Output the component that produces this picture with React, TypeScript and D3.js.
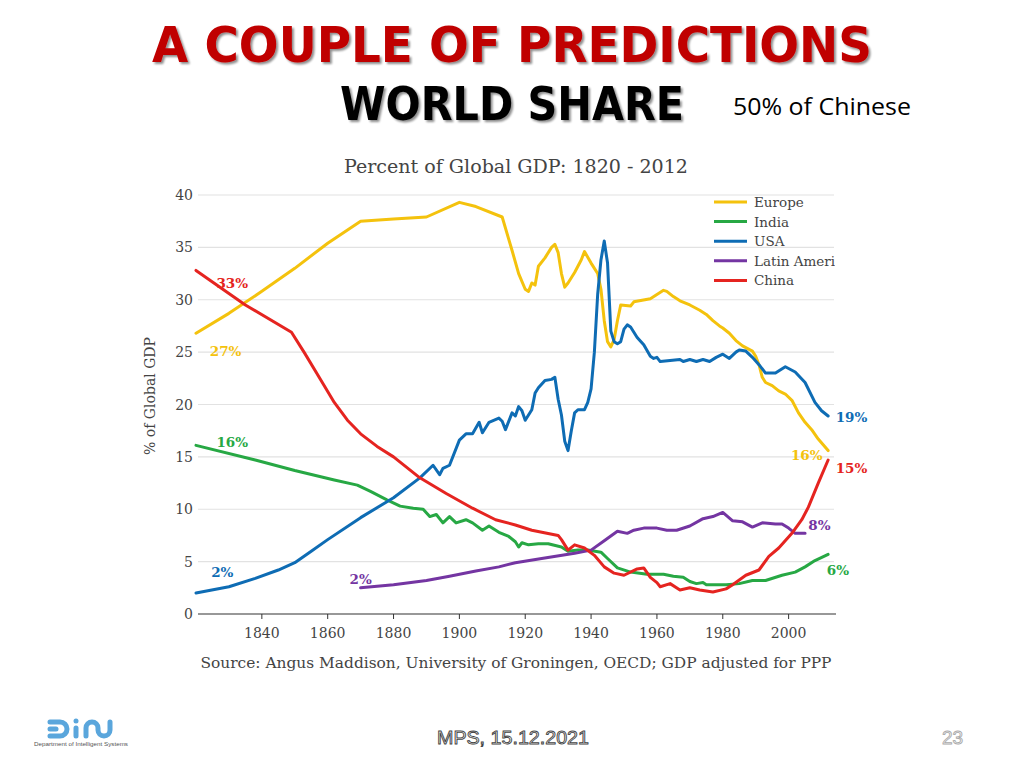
import React from "react";
import * as d3 from "d3";

const europe: [number, number][] = [
  [1820, 26.8], [1830, 28.7], [1840, 30.8], [1850, 33.0], [1860, 35.4], [1870, 37.5], [1880, 37.7],
  [1890, 37.9], [1900, 39.3], [1905, 38.9], [1913, 37.9], [1916, 34.7], [1918, 32.5], [1920, 31.0],
  [1921, 30.8], [1922, 31.6], [1923, 31.4], [1924, 33.2], [1926, 34.0], [1928, 35.0], [1929, 35.3],
  [1930, 34.5], [1931, 32.5], [1932, 31.2], [1933, 31.6], [1935, 32.6], [1937, 33.8], [1938, 34.6],
  [1940, 33.5], [1942, 32.5], [1943, 31.0], [1944, 28.0], [1945, 26.0], [1946, 25.5], [1947, 26.2],
  [1948, 28.0], [1949, 29.5], [1952, 29.4], [1953, 29.8], [1958, 30.1], [1960, 30.5],
  [1962, 30.9], [1963, 30.8], [1965, 30.3], [1967, 29.9], [1970, 29.5], [1973, 29.0], [1975, 28.6],
  [1977, 28.0], [1979, 27.5], [1980, 27.3], [1982, 26.8], [1984, 26.1], [1986, 25.6], [1989, 25.1],
  [1990, 24.6], [1991, 23.8], [1992, 22.6], [1993, 22.1], [1995, 21.8], [1997, 21.3], [1999, 21.0],
  [2001, 20.4], [2003, 19.2], [2005, 18.3], [2007, 17.6], [2009, 16.7], [2012, 15.6],
];

const india: [number, number][] = [
  [1820, 16.1], [1838, 14.7], [1850, 13.7], [1862, 12.8], [1869, 12.3], [1873, 11.7], [1878, 10.9],
  [1882, 10.3], [1886, 10.1], [1889, 10.0], [1891, 9.3], [1893, 9.5], [1895, 8.7], [1897, 9.3],
  [1899, 8.7], [1902, 9.0], [1904, 8.7], [1907, 8.0], [1909, 8.4], [1912, 7.8], [1915, 7.4],
  [1917, 6.9], [1918, 6.4], [1919, 6.8], [1921, 6.6], [1924, 6.7], [1927, 6.7], [1931, 6.4],
  [1933, 6.0], [1936, 6.1], [1939, 6.1], [1943, 5.9], [1945, 5.3], [1948, 4.4], [1952, 4.0],
  [1957, 3.8], [1962, 3.8], [1965, 3.6], [1968, 3.5], [1970, 3.1], [1972, 2.9], [1974, 3.0],
  [1975, 2.8], [1978, 2.8], [1981, 2.8], [1985, 2.9], [1989, 3.2], [1993, 3.2], [1998, 3.7],
  [2002, 4.0], [2005, 4.5], [2008, 5.1], [2012, 5.7],
];

const usa: [number, number][] = [
  [1820, 2.0], [1830, 2.6], [1838, 3.4], [1845, 4.2], [1850, 4.9], [1855, 6.0], [1860, 7.1],
  [1870, 9.2], [1880, 11.1], [1888, 13.0], [1892, 14.2], [1894, 13.3], [1895, 13.9], [1897, 14.2],
  [1900, 16.6], [1902, 17.2], [1904, 17.2], [1906, 18.3], [1907, 17.3], [1909, 18.3], [1912, 18.7],
  [1913, 18.4], [1914, 17.6], [1916, 19.2], [1917, 18.9], [1918, 19.8], [1919, 19.4], [1920, 18.5],
  [1922, 19.5], [1923, 21.1], [1924, 21.6], [1926, 22.3], [1928, 22.4], [1929, 22.6], [1930, 20.5],
  [1931, 19.0], [1932, 16.5], [1933, 15.6], [1934, 17.5], [1935, 19.2], [1936, 19.5], [1938, 19.5],
  [1939, 20.2], [1940, 21.5], [1941, 25.0], [1942, 30.5], [1943, 33.8], [1944, 35.6], [1945, 33.5],
  [1946, 27.0], [1947, 26.0], [1948, 25.8], [1949, 26.0], [1950, 27.2], [1951, 27.6], [1952, 27.4],
  [1954, 26.4], [1956, 25.7], [1958, 24.6], [1959, 24.4], [1960, 24.5], [1961, 24.1], [1964, 24.2],
  [1967, 24.3], [1968, 24.1], [1970, 24.3], [1972, 24.1], [1974, 24.3], [1976, 24.1], [1978, 24.5],
  [1980, 24.8], [1982, 24.4], [1984, 25.0], [1985, 25.2], [1987, 25.1], [1989, 24.5], [1991, 23.8],
  [1993, 23.0], [1996, 23.0], [1999, 23.6], [2002, 23.1], [2005, 22.1], [2008, 20.2], [2010, 19.4],
  [2012, 18.9],
];

const latinAmerica: [number, number][] = [
  [1870, 2.5], [1880, 2.8], [1890, 3.2], [1897, 3.6], [1905, 4.1], [1912, 4.5], [1917, 4.9],
  [1925, 5.3], [1935, 5.8], [1940, 6.1], [1944, 7.0], [1948, 7.9], [1951, 7.7], [1953, 8.0],
  [1956, 8.2], [1960, 8.2], [1963, 8.0], [1966, 8.0], [1970, 8.4], [1974, 9.1], [1977, 9.3],
  [1980, 9.7], [1983, 8.9], [1986, 8.8], [1989, 8.3], [1992, 8.7], [1996, 8.6], [1998, 8.6],
  [2000, 8.2], [2002, 7.7], [2005, 7.7],
];

const china: [number, number][] = [
  [1820, 32.8], [1835, 29.5], [1849, 26.9], [1853, 24.9], [1858, 22.3], [1862, 20.2], [1866, 18.5],
  [1870, 17.2], [1875, 16.0], [1880, 15.0], [1888, 13.0], [1896, 11.5], [1904, 10.1], [1911, 9.0],
  [1917, 8.5], [1922, 8.0], [1930, 7.5], [1931, 7.1], [1933, 6.1], [1935, 6.6], [1938, 6.3],
  [1941, 5.6], [1944, 4.5], [1947, 3.9], [1950, 3.7], [1954, 4.3], [1956, 4.4], [1958, 3.5],
  [1960, 3.0], [1961, 2.6], [1964, 2.9], [1967, 2.3], [1970, 2.5], [1973, 2.3], [1977, 2.1],
  [1981, 2.4], [1983, 2.8], [1987, 3.7], [1991, 4.2], [1994, 5.5], [1997, 6.3], [2001, 7.7],
  [2004, 9.0], [2006, 10.2], [2009, 12.5], [2012, 14.7],
];

const seriesNames = ["Europe", "India", "USA", "Latin Ameri", "China"];
const seriesColors = ["#f4c20d", "#27a844", "#0e6cb4", "#7435a2", "#e52420"];
const seriesData = [europe, india, usa, latinAmerica, china];

const yTicks = [0, 5, 10, 15, 20, 25, 30, 35, 40];
const xTicks = [1840, 1860, 1880, 1900, 1920, 1940, 1960, 1980, 2000];

// labels: [year, value, text, colorIndex]
const startLabels: [number, number, string, number][] = [
  [1831, 31.1, "33%", 4],
  [1829, 24.6, "27%", 0],
  [1831, 15.9, "16%", 1],
  [1828, 3.5, "2%", 2],
  [1870, 2.9, "2%", 3],
];
const endLabels: [number, number, string, number][] = [
  [2014.3, 18.3, "19%", 2],
  [2000.7, 14.7, "16%", 0],
  [2014.3, 13.5, "15%", 4],
  [2006, 8.0, "8%", 3],
  [2011.6, 3.7, "6%", 1],
];

export default function App() {
  const x = d3.scaleLinear().domain([1820, 2015]).range([196, 838]);
  const y = d3.scaleLinear().domain([0, 40]).range([614, 195]);
  const line = d3
    .line<[number, number]>()
    .x((d) => x(d[0]))
    .y((d) => y(d[1]))
    .curve(d3.curveLinear);

  const serif = "'DejaVu Serif', serif";
  const sans = "'DejaVu Sans', Verdana, sans-serif";

  return (
    <svg width={1024} height={768} style={{ position: "absolute", left: 0, top: 0, background: "#fff" }}>
      <rect x={0} y={0} width={1024} height={768} fill="#fff" />
      <defs>
        <filter id="shadow" x="-5%" y="-20%" width="110%" height="150%">
          <feGaussianBlur in="SourceAlpha" stdDeviation="1.2" />
          <feOffset dx="2" dy="2" result="off" />
          <feComponentTransfer>
            <feFuncA type="linear" slope="0.45" />
          </feComponentTransfer>
          <feMerge>
            <feMergeNode />
            <feMergeNode in="SourceGraphic" />
          </feMerge>
        </filter>
        <clipPath id="legclip">
          <rect x={700} y={185} width={135} height={110} />
        </clipPath>
      </defs>

      {/* Slide titles */}
      <text x={152} y={62} fontFamily={sans} fontWeight="bold" fontSize={49} fill="#c00000"
        textLength={720} lengthAdjust="spacingAndGlyphs" filter="url(#shadow)">
        A COUPLE OF PREDICTIONS
      </text>
      <text x={340} y={120} fontFamily={sans} fontWeight="bold" fontSize={46} fill="#000"
        textLength={344} lengthAdjust="spacingAndGlyphs" filter="url(#shadow)">
        WORLD SHARE
      </text>
      <text x={733} y={115} fontFamily="'Open Sans', 'DejaVu Sans', sans-serif" fontSize={24} fill="#000"
        textLength={178} lengthAdjust="spacingAndGlyphs">
        50% of Chinese
      </text>

      {/* Chart title */}
      <text x={516} y={173} textAnchor="middle" fontFamily={serif} fontSize={18.5} fill="#444"
        textLength={344} lengthAdjust="spacingAndGlyphs">
        Percent of Global GDP: 1820 - 2012
      </text>

      {/* gridlines */}
      {yTicks.filter((t) => t > 0).map((t) => (
        <line key={"g" + t} x1={198} x2={834} y1={y(t)} y2={y(t)} stroke="#e2e2e2" strokeWidth={1.2} />
      ))}
      {yTicks.map((t) => (
        <text key={"yt" + t} x={193} y={y(t) + 5} textAnchor="end" fontFamily={serif} fontSize={14} fill="#444">
          {t}
        </text>
      ))}
      <line x1={198} x2={836} y1={y(0)} y2={y(0)} stroke="#333" strokeWidth={1.2} />
      {xTicks.map((t) => (
        <g key={"xt" + t}>
          <line x1={x(t)} x2={x(t)} y1={y(0)} y2={y(0) + 5} stroke="#333" strokeWidth={1} />
          <text x={x(t)} y={y(0) + 24} textAnchor="middle" fontFamily={serif} fontSize={14} fill="#444">
            {t}
          </text>
        </g>
      ))}
      <text transform={`translate(155, 396) rotate(-90)`} textAnchor="middle" fontFamily={serif} fontSize={14} fill="#444">
        % of Global GDP
      </text>
      <text x={516} y={668} textAnchor="middle" fontFamily={serif} fontSize={15.5} fill="#444"
        textLength={631} lengthAdjust="spacingAndGlyphs">
        Source: Angus Maddison, University of Groningen, OECD; GDP adjusted for PPP
      </text>

      {/* series lines */}
      {seriesData.map((d, i) => (
        <path key={"s" + i} d={line(d) || ""} fill="none" stroke={seriesColors[i]} strokeWidth={3}
          strokeLinejoin="round" strokeLinecap="round" />
      ))}

      {/* value labels */}
      {startLabels.map((l, i) => (
        <text key={"sl" + i} x={x(l[0])} y={y(l[1])} textAnchor="middle" fontFamily={serif} fontWeight="bold"
          fontSize={13.5} fill={seriesColors[l[3]]}>
          {l[2]}
        </text>
      ))}
      {endLabels.map((l, i) => (
        <text key={"el" + i} x={x(l[0])} y={y(l[1])} textAnchor="start" fontFamily={serif} fontWeight="bold"
          fontSize={13.5} fill={seriesColors[l[3]]}>
          {l[2]}
        </text>
      ))}

      {/* legend */}
      <g clipPath="url(#legclip)">
        {seriesNames.map((n, i) => (
          <g key={"lg" + i} transform={`translate(714, ${202 + i * 19.6})`}>
            <line x1={0} x2={33} y1={0} y2={0} stroke={seriesColors[i]} strokeWidth={3} />
            <text x={40} y={5} fontFamily={serif} fontSize={13.5} fill="#444">
              {n}
            </text>
          </g>
        ))}
      </g>

      {/* footer logo */}
      <g fill="none" stroke="#5aa6dc" strokeWidth={5} strokeLinecap="round">
        <path d="M50,722 L60,722 A7,7 0 0 1 60,736 L50,736" />
        <line x1={50} x2={56} y1={729} y2={729} />
        <line x1={76} x2={76} y1={728} y2={736} />
        <path d="M86,736 L86,728 A6,6 0 0 1 98,728 L98,730 A6,6 0 0 0 110,730 L110,722" />
      </g>
      <circle cx={76} cy={721} r={2.5} fill="#5aa6dc" />
      <text x={34} y={746} fontFamily="'Liberation Sans', Arial, sans-serif" fontSize={5.6} fill="#555"
        textLength={94} lengthAdjust="spacingAndGlyphs">
        Department of Intelligent Systems
      </text>

      <text x={437} y={744} fontFamily="'Liberation Sans', Arial, sans-serif" fontSize={19} fill="#fff"
        stroke="#444" strokeWidth={0.9} textLength={152} lengthAdjust="spacingAndGlyphs">
        MPS, 15.12.2021
      </text>
      <text x={942} y={744} fontFamily="'Liberation Sans', Arial, sans-serif" fontSize={19} fill="#fff"
        stroke="#aaa" strokeWidth={0.9}>
        23
      </text>
    </svg>
  );
}
